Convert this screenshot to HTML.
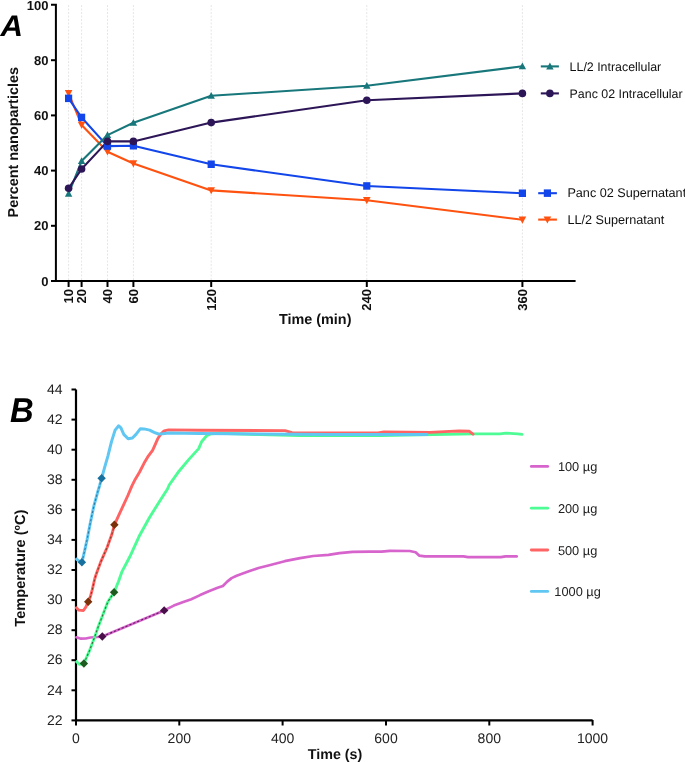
<!DOCTYPE html>
<html><head><meta charset="utf-8"><style>
html,body{margin:0;padding:0;background:#fff;}
body{width:685px;height:762px;overflow:hidden;}
svg{display:block;filter:blur(0.35px);}
text{font-family:"Liberation Sans",sans-serif;text-rendering:geometricPrecision;}
.ta{font-weight:bold;font-size:13px;text-anchor:end;fill:#111;}
.tt{font-weight:bold;font-size:14.4px;fill:#111;}
.big{font-weight:bold;font-style:italic;font-size:30.6px;fill:#000;}
.bigB{font-weight:bold;font-style:italic;font-size:34.5px;fill:#000;}
.lg{font-size:12.4px;fill:#111;}
.tb{font-size:14px;fill:#222;}
.tbt{font-weight:bold;font-size:14.3px;fill:#111;}
.tbt2{font-weight:bold;font-size:14.6px;fill:#111;}
.lgb{font-size:12.8px;fill:#222;}
</style></head><body>
<svg width="685" height="762" viewBox="0 0 685 762">
<line x1="68.6" y1="5" x2="68.6" y2="280" stroke="#e6e6e6" stroke-width="1" stroke-dasharray="2,1.5"/>
<line x1="81.6" y1="5" x2="81.6" y2="280" stroke="#e6e6e6" stroke-width="1" stroke-dasharray="2,1.5"/>
<line x1="107.5" y1="5" x2="107.5" y2="280" stroke="#e6e6e6" stroke-width="1" stroke-dasharray="2,1.5"/>
<line x1="133.4" y1="5" x2="133.4" y2="280" stroke="#e6e6e6" stroke-width="1" stroke-dasharray="2,1.5"/>
<line x1="211.2" y1="5" x2="211.2" y2="280" stroke="#e6e6e6" stroke-width="1" stroke-dasharray="2,1.5"/>
<line x1="366.8" y1="5" x2="366.8" y2="280" stroke="#e6e6e6" stroke-width="1" stroke-dasharray="2,1.5"/>
<line x1="522.4" y1="5" x2="522.4" y2="280" stroke="#e6e6e6" stroke-width="1" stroke-dasharray="2,1.5"/>
<polyline points="68.6,93.3 81.6,124.9 107.5,151.7 133.4,163.5 211.2,190.4 366.8,200.3 522.4,219.8" fill="none" stroke="#ff5210" stroke-width="2.1" stroke-linejoin="round"/>
<polyline points="68.6,98.4 81.6,117.5 107.5,146.1 133.4,145.8 211.2,164.3 366.8,186.0 522.4,193.3" fill="none" stroke="#1245ea" stroke-width="2.1" stroke-linejoin="round"/>
<polyline points="68.6,193.7 81.6,161.1 107.5,135.1 133.4,122.8 211.2,95.8 366.8,85.8 522.4,66.3" fill="none" stroke="#18777b" stroke-width="2.1" stroke-linejoin="round"/>
<polyline points="68.6,188.3 81.6,169.0 107.5,141.4 133.4,141.4 211.2,122.6 366.8,100.3 522.4,93.4" fill="none" stroke="#2d1657" stroke-width="2.1" stroke-linejoin="round"/>
<path d="M64.8,90.1 L72.4,90.1 L68.6,97.2Z" fill="#ff5210"/>
<path d="M77.8,121.7 L85.4,121.7 L81.6,128.8Z" fill="#ff5210"/>
<path d="M103.7,148.5 L111.3,148.5 L107.5,155.6Z" fill="#ff5210"/>
<path d="M129.6,160.3 L137.2,160.3 L133.4,167.4Z" fill="#ff5210"/>
<path d="M207.4,187.2 L215.0,187.2 L211.2,194.3Z" fill="#ff5210"/>
<path d="M363.0,197.1 L370.6,197.1 L366.8,204.2Z" fill="#ff5210"/>
<path d="M518.6,216.6 L526.2,216.6 L522.4,223.7Z" fill="#ff5210"/>
<rect x="65.0" y="94.6" width="7.2" height="7.5" fill="#1245ea"/>
<rect x="78.0" y="113.7" width="7.2" height="7.5" fill="#1245ea"/>
<rect x="103.9" y="142.3" width="7.2" height="7.5" fill="#1245ea"/>
<rect x="129.8" y="142.0" width="7.2" height="7.5" fill="#1245ea"/>
<rect x="207.6" y="160.5" width="7.2" height="7.5" fill="#1245ea"/>
<rect x="363.2" y="182.2" width="7.2" height="7.5" fill="#1245ea"/>
<rect x="518.8" y="189.5" width="7.2" height="7.5" fill="#1245ea"/>
<path d="M68.6,189.8 L72.3,196.7 L64.9,196.7Z" fill="#18777b"/>
<path d="M81.6,157.2 L85.3,164.1 L77.9,164.1Z" fill="#18777b"/>
<path d="M107.5,131.2 L111.2,138.1 L103.8,138.1Z" fill="#18777b"/>
<path d="M133.4,118.9 L137.1,125.8 L129.7,125.8Z" fill="#18777b"/>
<path d="M211.2,91.9 L214.9,98.8 L207.5,98.8Z" fill="#18777b"/>
<path d="M366.8,81.9 L370.5,88.8 L363.1,88.8Z" fill="#18777b"/>
<path d="M522.4,62.4 L526.1,69.3 L518.7,69.3Z" fill="#18777b"/>
<circle cx="68.6" cy="188.3" r="3.8" fill="#2d1657"/>
<circle cx="81.6" cy="169.0" r="3.8" fill="#2d1657"/>
<circle cx="107.5" cy="141.4" r="3.8" fill="#2d1657"/>
<circle cx="133.4" cy="141.4" r="3.8" fill="#2d1657"/>
<circle cx="211.2" cy="122.6" r="3.8" fill="#2d1657"/>
<circle cx="366.8" cy="100.3" r="3.8" fill="#2d1657"/>
<circle cx="522.4" cy="93.4" r="3.8" fill="#2d1657"/>
<path d="M51,4.8 H55.9 V281 H575.6" fill="none" stroke="#000" stroke-width="2"/>
<line x1="51" y1="60.2" x2="56" y2="60.2" stroke="#000" stroke-width="2"/>
<line x1="51" y1="115.4" x2="56" y2="115.4" stroke="#000" stroke-width="2"/>
<line x1="51" y1="170.6" x2="56" y2="170.6" stroke="#000" stroke-width="2"/>
<line x1="51" y1="225.8" x2="56" y2="225.8" stroke="#000" stroke-width="2"/>
<line x1="51" y1="281.0" x2="56" y2="281.0" stroke="#000" stroke-width="2"/>
<line x1="68.6" y1="281" x2="68.6" y2="287" stroke="#000" stroke-width="2"/>
<line x1="81.6" y1="281" x2="81.6" y2="287" stroke="#000" stroke-width="2"/>
<line x1="107.5" y1="281" x2="107.5" y2="287" stroke="#000" stroke-width="2"/>
<line x1="133.4" y1="281" x2="133.4" y2="287" stroke="#000" stroke-width="2"/>
<line x1="211.2" y1="281" x2="211.2" y2="287" stroke="#000" stroke-width="2"/>
<line x1="366.8" y1="281" x2="366.8" y2="287" stroke="#000" stroke-width="2"/>
<line x1="522.4" y1="281" x2="522.4" y2="287" stroke="#000" stroke-width="2"/>
<text x="48.5" y="9.6" class="ta">100</text>
<text x="48.5" y="64.8" class="ta">80</text>
<text x="48.5" y="120.0" class="ta">60</text>
<text x="48.5" y="175.2" class="ta">40</text>
<text x="48.5" y="230.4" class="ta">20</text>
<text x="48.5" y="285.6" class="ta">0</text>
<text transform="translate(73.2,289) rotate(-90)" class="ta">10</text>
<text transform="translate(86.2,289) rotate(-90)" class="ta">20</text>
<text transform="translate(112.1,289) rotate(-90)" class="ta">40</text>
<text transform="translate(138.0,289) rotate(-90)" class="ta">60</text>
<text transform="translate(215.8,289) rotate(-90)" class="ta">120</text>
<text transform="translate(371.4,289) rotate(-90)" class="ta">240</text>
<text transform="translate(527.0,289) rotate(-90)" class="ta">360</text>
<text transform="translate(17.5,142.3) rotate(-90)" class="tt" text-anchor="middle">Percent nanoparticles</text>
<text x="315.2" y="324.2" class="tt" text-anchor="middle">Time (min)</text>
<text transform="translate(0.6,36.3) scale(1.02,0.973)" class="big">A</text>
<line x1="540.8" y1="66.4" x2="558.9" y2="66.4" stroke="#18777b" stroke-width="2.1"/>
<path d="M549.9,62.5 L553.6,69.4 L546.2,69.4Z" fill="#18777b"/>
<text x="569.6" y="70.8" class="lg" style="font-size:12.4px">LL/2 Intracellular</text>
<line x1="540.8" y1="93.4" x2="558.9" y2="93.4" stroke="#2d1657" stroke-width="2.1"/>
<circle cx="549.9" cy="93.4" r="3.8" fill="#2d1657"/>
<text x="569.6" y="97.8" class="lg" style="font-size:12.4px">Panc 02 Intracellular</text>
<line x1="538.2" y1="193.2" x2="556.9" y2="193.2" stroke="#1245ea" stroke-width="2.1"/>
<rect x="543.8" y="189.4" width="7.2" height="7.5" fill="#1245ea"/>
<text x="567.4" y="196.9" class="lg" style="font-size:12.65px">Panc 02 Supernatant</text>
<line x1="538.2" y1="219.6" x2="556.9" y2="219.6" stroke="#ff5210" stroke-width="2.1"/>
<path d="M543.6,216.4 L551.2,216.4 L547.4,223.5Z" fill="#ff5210"/>
<text x="567.4" y="224.0" class="lg" style="font-size:12.65px">LL/2 Supernatant</text>
<path d="M76,389.5 V720.4 H592.6" fill="none" stroke="#000" stroke-width="2.2"/>
<polyline points="76.4,637.3 81.1,638.7 85.8,638.5 90.5,637.5 97.6,637.0 102.3,636.5 164.2,610.4 173.8,605.6 182.6,602.3 191.3,599.2 200.1,595.1 208.8,591.3 217.6,587.8 222.9,586.0 227.2,581.6 231.6,578.1 236.6,575.7 247.5,571.8 258.5,568.0 269.4,565.2 284.7,561.2 300.1,558.2 313.2,556.0 328.5,554.9 339.5,553.1 352.6,551.8 370.0,551.6 381.7,551.6 389.9,550.9 409.7,551.0 415.6,552.3 419.1,555.6 425.0,556.4 463.5,556.4 468.1,557.2 500.8,557.2 505.5,556.4 516.7,556.4" fill="none" stroke="#d664cc" stroke-width="2.7" stroke-linejoin="round" stroke-linecap="round"/>
<polyline points="76.4,661.5 79.3,664.2 83.9,663.5 89.4,650.9 94.5,637.4 98.5,626.0 102.3,616.2 107.9,601.7 114.1,592.3 118.5,581.5 122.0,571.6 129.8,556.8 139.7,535.2 149.5,517.5 159.3,501.7 167.5,489.0 169.2,485.0 179.0,471.2 188.9,459.4 198.7,448.6 201.6,441.7 206.6,435.8 210.5,433.9 220.0,433.2 260.0,434.5 300.0,435.6 380.0,435.6 420.0,434.8 473.8,433.9 500.0,433.9 505.9,433.1 517.6,433.9 522.0,434.4" fill="none" stroke="#4dfc94" stroke-width="2.9" stroke-linejoin="round" stroke-linecap="round"/>
<polyline points="76.4,607.8 78.7,610.1 83.4,610.5 85.8,607.2 88.2,601.8 90.4,596.6 92.2,589.8 94.7,579.0 96.0,574.8 98.5,567.9 101.1,561.1 104.5,553.4 107.1,547.5 109.6,540.6 111.8,534.6 114.4,524.8 119.4,513.8 123.8,504.4 128.1,495.0 131.7,486.4 135.3,479.2 139.6,472.0 144.0,463.3 148.3,456.1 152.6,450.3 155.5,443.8 157.7,438.8 160.6,434.4 164.2,430.8 168.5,429.9 200.0,430.2 285.0,430.6 292.0,432.6 378.0,433.0 384.0,431.9 430.0,432.4 444.6,431.6 459.2,431.0 469.4,431.3 473.0,434.2" fill="none" stroke="#ff6464" stroke-width="2.9" stroke-linejoin="round" stroke-linecap="round"/>
<polyline points="76.6,559.2 79.0,561.0 81.9,562.3 84.5,551.4 87.1,539.6 90.4,522.5 93.7,506.7 97.6,492.3 99.6,485.7 101.6,478.3 105.0,466.2 107.9,456.1 111.5,441.6 115.1,430.1 118.7,425.8 120.9,427.9 123.8,434.4 128.1,438.8 132.4,438.0 136.0,434.4 140.4,428.7 144.0,428.9 149.7,430.1 154.1,432.3 158.4,434.0 162.7,433.7 168.5,433.1 200.0,433.6 260.0,434.0 330.0,434.4 380.0,434.4 427.0,434.4" fill="none" stroke="#60c6f2" stroke-width="3.0" stroke-linejoin="round" stroke-linecap="round"/>
<polyline points="81.9,562.3 84.5,551.4 87.1,539.6 90.4,522.5 93.7,506.7 97.6,492.3 99.6,485.7 101.6,478.3" fill="none" stroke="#1a6e99" stroke-width="1.1" stroke-dasharray="2.2,2" opacity="0.85"/>
<polyline points="88.2,601.8 90.4,596.6 92.2,589.8 94.7,579.0 96.0,574.8 98.5,567.9 101.1,561.1 104.5,553.4 107.1,547.5 109.6,540.6 111.8,534.6 114.4,524.8" fill="none" stroke="#7a3010" stroke-width="1.1" stroke-dasharray="2.2,2" opacity="0.85"/>
<polyline points="83.9,663.5 89.4,650.9 94.5,637.4 98.5,626.0 102.3,616.2 107.9,601.7 114.1,592.3" fill="none" stroke="#245a24" stroke-width="1.1" stroke-dasharray="2.2,2" opacity="0.85"/>
<polyline points="102.3,636.5 164.2,610.4" fill="none" stroke="#4a1248" stroke-width="1.1" stroke-dasharray="2.2,2" opacity="0.85"/>
<path d="M81.9,558.1 L86.1,562.3 L81.9,566.5 L77.7,562.3Z" fill="#17709e"/>
<path d="M101.6,474.1 L105.8,478.3 L101.6,482.5 L97.4,478.3Z" fill="#17709e"/>
<path d="M88.2,597.6 L92.4,601.8 L88.2,606.0 L84.0,601.8Z" fill="#7a3008"/>
<path d="M114.4,520.6 L118.6,524.8 L114.4,529.0 L110.2,524.8Z" fill="#7a3008"/>
<path d="M83.9,659.3 L88.1,663.5 L83.9,667.7 L79.7,663.5Z" fill="#1f5a1f"/>
<path d="M114.1,588.1 L118.3,592.3 L114.1,596.5 L109.9,592.3Z" fill="#1f5a1f"/>
<path d="M102.3,632.3 L106.5,636.5 L102.3,640.7 L98.1,636.5Z" fill="#4a0f4a"/>
<path d="M164.2,606.2 L168.4,610.4 L164.2,614.6 L160.0,610.4Z" fill="#4a0f4a"/>
<line x1="71.5" y1="720.4" x2="76" y2="720.4" stroke="#000" stroke-width="2"/>
<text x="62.5" y="724.6" class="tb" text-anchor="end">22</text>
<line x1="71.5" y1="690.3" x2="76" y2="690.3" stroke="#000" stroke-width="2"/>
<text x="62.5" y="694.5" class="tb" text-anchor="end">24</text>
<line x1="71.5" y1="660.2" x2="76" y2="660.2" stroke="#000" stroke-width="2"/>
<text x="62.5" y="664.4" class="tb" text-anchor="end">26</text>
<line x1="71.5" y1="630.2" x2="76" y2="630.2" stroke="#000" stroke-width="2"/>
<text x="62.5" y="634.4" class="tb" text-anchor="end">28</text>
<line x1="71.5" y1="600.1" x2="76" y2="600.1" stroke="#000" stroke-width="2"/>
<text x="62.5" y="604.3" class="tb" text-anchor="end">30</text>
<line x1="71.5" y1="570.0" x2="76" y2="570.0" stroke="#000" stroke-width="2"/>
<text x="62.5" y="574.2" class="tb" text-anchor="end">32</text>
<line x1="71.5" y1="539.9" x2="76" y2="539.9" stroke="#000" stroke-width="2"/>
<text x="62.5" y="544.1" class="tb" text-anchor="end">34</text>
<line x1="71.5" y1="509.8" x2="76" y2="509.8" stroke="#000" stroke-width="2"/>
<text x="62.5" y="514.0" class="tb" text-anchor="end">36</text>
<line x1="71.5" y1="479.8" x2="76" y2="479.8" stroke="#000" stroke-width="2"/>
<text x="62.5" y="484.0" class="tb" text-anchor="end">38</text>
<line x1="71.5" y1="449.7" x2="76" y2="449.7" stroke="#000" stroke-width="2"/>
<text x="62.5" y="453.9" class="tb" text-anchor="end">40</text>
<line x1="71.5" y1="419.6" x2="76" y2="419.6" stroke="#000" stroke-width="2"/>
<text x="62.5" y="423.8" class="tb" text-anchor="end">42</text>
<line x1="71.5" y1="389.5" x2="76" y2="389.5" stroke="#000" stroke-width="2"/>
<text x="62.5" y="393.7" class="tb" text-anchor="end">44</text>
<line x1="76.0" y1="720" x2="76.0" y2="725.5" stroke="#000" stroke-width="2"/>
<text x="76.0" y="743" class="tb" text-anchor="middle">0</text>
<line x1="179.3" y1="720" x2="179.3" y2="725.5" stroke="#000" stroke-width="2"/>
<text x="179.3" y="743" class="tb" text-anchor="middle">200</text>
<line x1="282.6" y1="720" x2="282.6" y2="725.5" stroke="#000" stroke-width="2"/>
<text x="282.6" y="743" class="tb" text-anchor="middle">400</text>
<line x1="386.0" y1="720" x2="386.0" y2="725.5" stroke="#000" stroke-width="2"/>
<text x="386.0" y="743" class="tb" text-anchor="middle">600</text>
<line x1="489.3" y1="720" x2="489.3" y2="725.5" stroke="#000" stroke-width="2"/>
<text x="489.3" y="743" class="tb" text-anchor="middle">800</text>
<line x1="592.6" y1="720" x2="592.6" y2="725.5" stroke="#000" stroke-width="2"/>
<text x="592.6" y="743" class="tb" text-anchor="middle">1000</text>
<text x="335" y="759.3" class="tbt" text-anchor="middle">Time (s)</text>
<text transform="translate(25.2,568.2) rotate(-90)" class="tbt2" text-anchor="middle">Temperature (ºC)</text>
<text transform="translate(10,422.3) scale(0.95,1)" class="bigB">B</text>
<line x1="531.3" y1="466.4" x2="547.7" y2="466.4" stroke="#d664cc" stroke-width="2.8" stroke-linecap="round"/>
<text x="577.6" y="471.0" class="lgb" text-anchor="middle">100 µg</text>
<line x1="531.3" y1="508.2" x2="547.7" y2="508.2" stroke="#4dfc94" stroke-width="2.8" stroke-linecap="round"/>
<text x="577.6" y="512.8" class="lgb" text-anchor="middle">200 µg</text>
<line x1="531.3" y1="550.0" x2="547.7" y2="550.0" stroke="#ff6464" stroke-width="2.8" stroke-linecap="round"/>
<text x="577.6" y="554.6" class="lgb" text-anchor="middle">500 µg</text>
<line x1="531.3" y1="591.4" x2="547.7" y2="591.4" stroke="#60c6f2" stroke-width="2.8" stroke-linecap="round"/>
<text x="577.6" y="596.0" class="lgb" text-anchor="middle">1000 µg</text>
</svg>
</body></html>
